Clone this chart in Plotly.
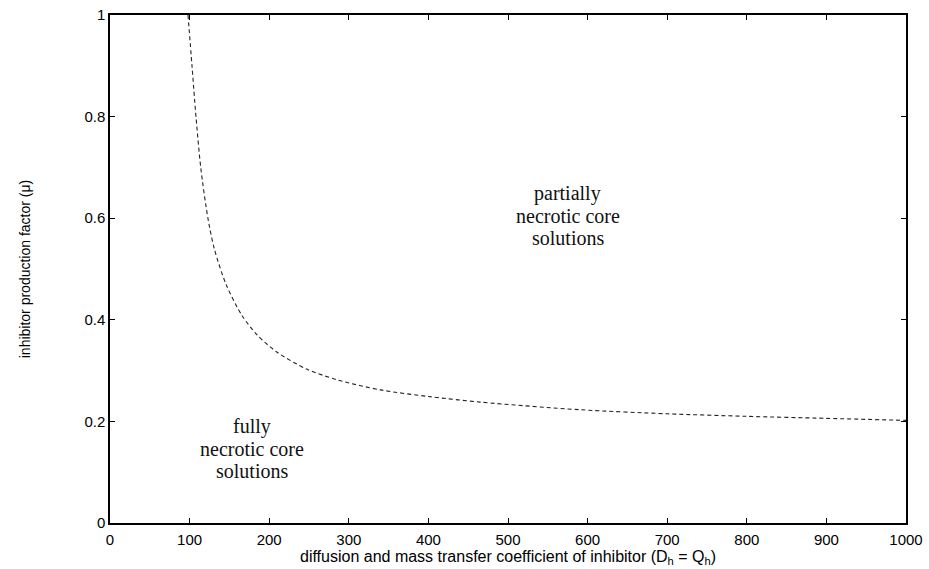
import plotly.graph_objects as go

# Boundary curve between fully and partially necrotic core solutions
diffusion = [98, 103, 108, 114, 123, 131, 146, 166, 185, 210, 247, 285, 340, 400, 465, 590, 700, 800, 900, 1000]
mu_boundary = [1.0, 0.9, 0.8, 0.70, 0.60, 0.54, 0.469, 0.408, 0.370, 0.336, 0.303, 0.282, 0.262, 0.249, 0.238, 0.223, 0.215, 0.210, 0.206, 0.202]

x_ticks = [0, 100, 200, 300, 400, 500, 600, 700, 800, 900, 1000]
y_ticks = [0, 0.2, 0.4, 0.6, 0.8, 1]
y_tick_labels = ["0", "0.2", "0.4", "0.6", "0.8", "1"]

x_title = "diffusion and mass transfer coefficient of inhibitor (D<sub>h</sub> = Q<sub>h</sub>)"
y_title = "inhibitor production factor (μ)"

region_labels = [
    (575, [0.649, 0.605, 0.561], ["partially", "necrotic core", "solutions"]),
    (178, [0.190, 0.146, 0.102], ["fully", "necrotic core", "solutions"]),
]

fig = go.Figure()
fig.add_trace(go.Scatter(
    x=diffusion, y=mu_boundary, mode="lines",
    line=dict(color="#222222", width=1.1, dash="4px,3px", shape="spline", smoothing=0.8),
    showlegend=False, hoverinfo="skip"))

for xc, ys, texts in region_labels:
    for yy, t in zip(ys, texts):
        fig.add_annotation(x=xc, y=yy, text=t, showarrow=False,
                           xanchor="center", yanchor="middle",
                           font=dict(family="Liberation Serif, Times New Roman, serif", size=20, color="#111111"))

# x-axis title placed just below the tick labels
fig.add_annotation(x=0.5, y=-0.068, xref="paper", yref="paper", text=x_title,
                   showarrow=False, xanchor="center", yanchor="middle",
                   font=dict(family="Liberation Sans, Arial, sans-serif", size=16, color="black"))

axis_common = dict(showline=True, linecolor="black", linewidth=1.5, mirror="ticks",
                   ticks="inside", ticklen=5, tickwidth=1, tickcolor="black",
                   showgrid=False, zeroline=False, automargin=False,
                   tickfont=dict(family="Liberation Sans, Arial, sans-serif", size=15, color="black"))

fig.update_xaxes(range=[0, 1000], tickvals=x_ticks, ticktext=[str(v) for v in x_ticks],
                 ticklabelstandoff=2, **axis_common)
fig.update_yaxes(range=[0, 1], tickvals=y_ticks, ticktext=y_tick_labels,
                 title=dict(text=y_title,
                            font=dict(family="Liberation Sans, Arial, sans-serif", size=14, color="black"),
                            standoff=50),
                 **axis_common)

fig.update_layout(width=929, height=569, autosize=False,
                  margin=dict(l=110, r=23, t=15, b=46),
                  paper_bgcolor="white", plot_bgcolor="white")

fig.write_html("out.html")
